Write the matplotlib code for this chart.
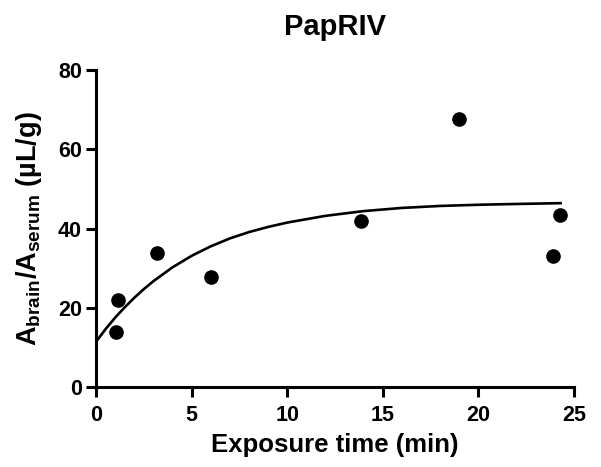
import numpy as np
import matplotlib
matplotlib.use("Agg")
import matplotlib.pyplot as plt

# measured points (exposure time in min, brain/serum ratio in uL/g)
time_min = [1.03, 1.17, 3.18, 6.01, 13.84, 19.01, 23.92, 24.28]
ratio = [14.0, 22.0, 33.8, 27.8, 41.8, 67.6, 33.0, 43.5]

# fitted curve
fit_x = [0, 0.5, 1, 1.5, 2, 2.5, 3, 4, 5, 6, 7, 8, 9, 10, 12, 14, 16, 18, 20, 22, 24.3]
fit_y = [11.4, 14.6, 17.5, 20.1, 22.5, 24.7, 26.7, 30.2, 33.1, 35.5, 37.5, 39.1, 40.4, 41.5,
         43.2, 44.4, 45.2, 45.7, 46.0, 46.2, 46.4]

x_ticks = [0, 5, 10, 15, 20, 25]
y_ticks = [0, 20, 40, 60, 80]

plt.rcParams['font.family'] = ['Liberation Sans', 'DejaVu Sans']
plt.rcParams['font.weight'] = 'bold'
plt.rcParams['mathtext.fontset'] = 'custom'
plt.rcParams['mathtext.rm'] = 'Liberation Sans:bold'
plt.rcParams['mathtext.default'] = 'rm'

fig = plt.figure(figsize=(6.01, 4.67), dpi=100)
ax = fig.add_axes([0.1597, 0.1713, 0.955 - 0.1597, 0.850 - 0.1713])

ax.plot(fit_x, fit_y, color='black', lw=1.9, zorder=2)
ax.plot(time_min, ratio, 'o', color='black', ms=9.5, zorder=3, clip_on=False)

ax.set_xlim(0, 25)
ax.set_ylim(0, 80)
ax.set_xticks(x_ticks)
ax.set_yticks(y_ticks)

for side in ['top', 'right']:
    ax.spines[side].set_visible(False)
for side in ['left', 'bottom']:
    ax.spines[side].set_linewidth(2.2)

ax.tick_params(axis='both', width=2.2, length=7, labelsize=15.5)
ax.tick_params(axis='x', pad=6)
ax.tick_params(axis='y', pad=3)
for lab in ax.get_xticklabels() + ax.get_yticklabels():
    lab.set_fontweight('bold')

ax.set_xlabel('Exposure time (min)', fontsize=18.5, fontweight='bold', labelpad=5)
ax.set_ylabel('A$_{brain}$/A$_{serum}$ (µL/g)', fontsize=19.5, fontweight='bold', labelpad=10)
ax.set_title('PapRIV', fontsize=21, fontweight='bold', pad=25)

fig.savefig('out.png', dpi=100)
